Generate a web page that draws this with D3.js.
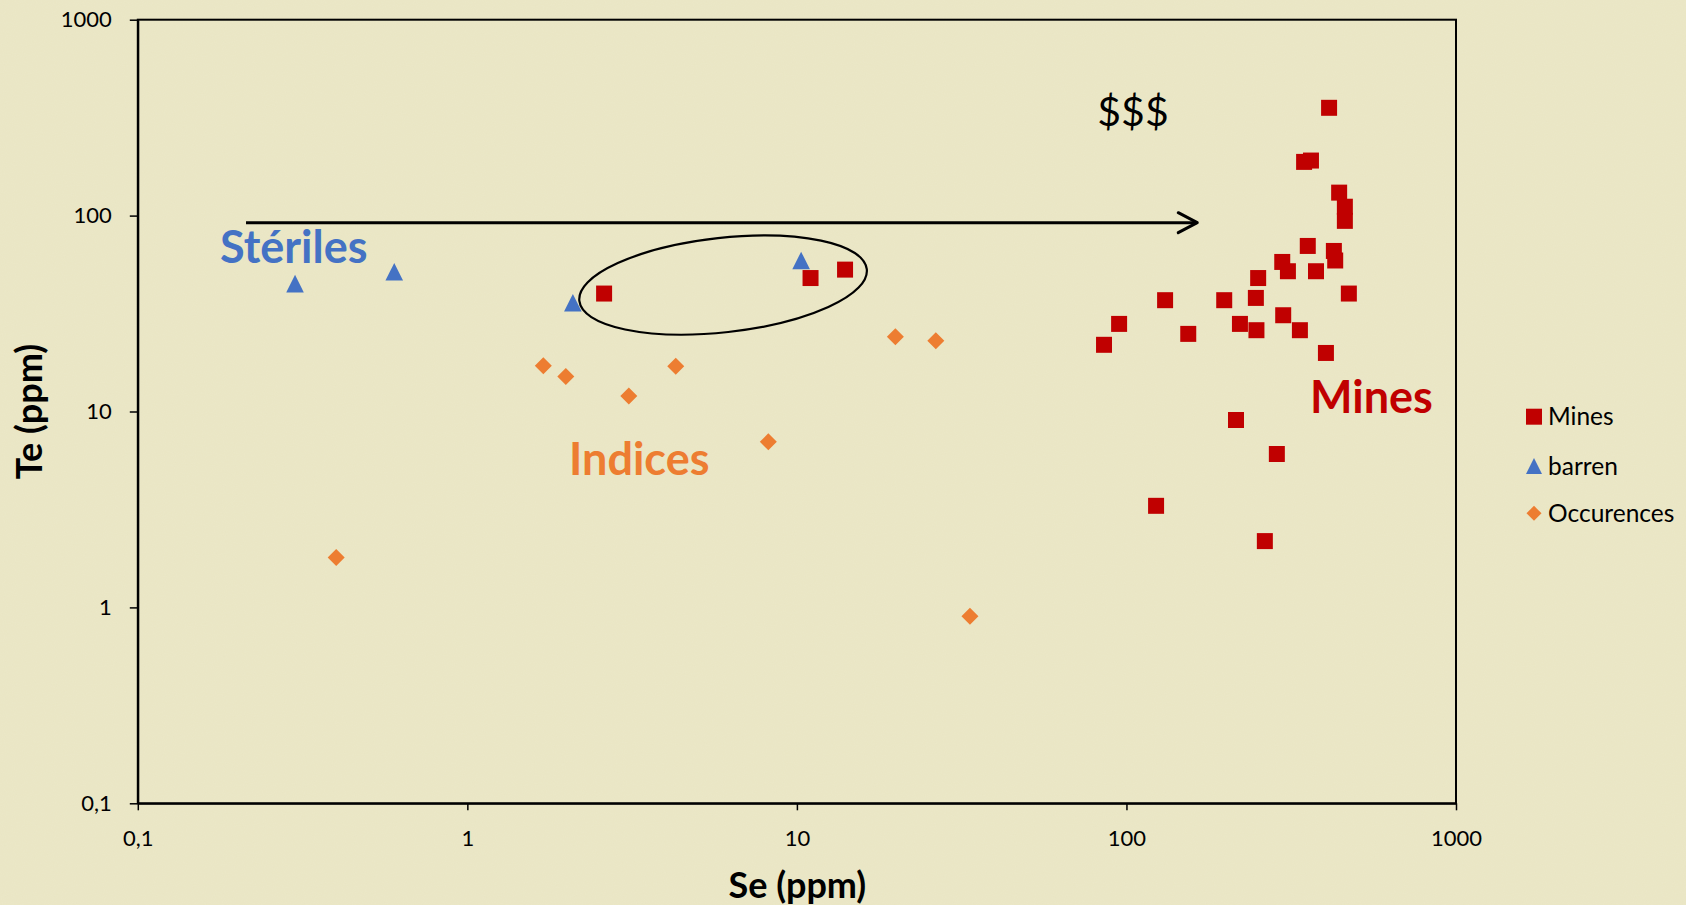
<!DOCTYPE html>
<html>
<head>
<meta charset="utf-8">
<script src="https://cdn.jsdelivr.net/npm/d3@7"></script>
<style>
  html, body { margin: 0; padding: 0; background: #E9E5C3; }
  svg { display: block; }
  text { font-family: Lato, "Open Sans", sans-serif; }
</style>
</head>
<body>
<svg id="chart" width="1686" height="905"></svg>
<script>
// ---- Data ----
const seriesNames = ["Mines", "barren", "Occurences"];

const minesSe = [412, 346, 363, 442, 460, 460, 355, 426, 430, 297, 309, 376, 251, 131, 198, 247, 473,
                 95, 299, 221, 248, 154, 336, 85.5, 403, 215, 286, 123, 263, 2.6, 11.0, 14.0];
const minesTe = [355, 188, 191, 131, 111, 94, 70, 66, 59, 58, 52, 52, 48, 37, 37, 38, 40,
                 28, 31, 28, 26, 24.9, 26, 21.9, 19.9, 9.05, 6.07, 3.3, 2.18, 40, 48, 53];

const barrenSe = [0.3, 0.6, 2.09, 10.3];
const barrenTe = [44.9, 51.7, 35.9, 59];

const occSe = [0.40, 1.70, 1.99, 3.09, 4.29, 8.19, 19.9, 26.4, 33.5];
const occTe = [1.80, 17.1, 15.1, 12.0, 17.0, 7.0, 24.1, 23.0, 0.90];

const xTicks = [0.1, 1, 10, 100, 1000];
const xTickLabels = ["0,1", "1", "10", "100", "1000"];
const yTicks = [0.1, 1, 10, 100, 1000];
const yTickLabels = ["0,1", "1", "10", "100", "1000"];

const xTitle = "Se (ppm)";
const yTitle = "Te (ppm)";

// annotation anchors (data space)
const arrowFrom = [0.213, 92];
const arrowTo = [164, 92];
const ellipseCenter = [5.97, 44.2];

// ---- Layout ----
const svg = d3.select("#chart");
const W = 1686, H = 905;
const plot = { left: 137.8, right: 1456, top: 19.7, bottom: 803.3 };

const colors = { Mines: "#C00000", barren: "#4472C4", Occurences: "#ED7D31" };

// background texture
const defs = svg.append("defs");
const f = defs.append("filter").attr("id", "paper").attr("x", 0).attr("y", 0).attr("width", "100%").attr("height", "100%");
f.append("feTurbulence").attr("type", "fractalNoise").attr("baseFrequency", 0.9).attr("numOctaves", 2).attr("seed", 3).attr("result", "n");
f.append("feColorMatrix").attr("type", "matrix")
  .attr("values", "0 0 0 0 1  0 0 0 0 1  0 0 0 0 0.9  0 0 0 0.10 0");
svg.append("rect").attr("width", W).attr("height", H).attr("fill", "#E9E5C3");
svg.append("rect").attr("width", W).attr("height", H).attr("filter", "url(#paper)");

const x = d3.scaleLog().domain([0.1, 1000]).range([plot.left, plot.right]);
const y = d3.scaleLog().domain([0.1, 1000]).range([plot.bottom, plot.top]);

// plot border
svg.append("rect")
  .attr("x", plot.left).attr("y", plot.top)
  .attr("width", plot.right - plot.left).attr("height", plot.bottom - plot.top)
  .attr("fill", "none").attr("stroke", "#000").attr("stroke-width", 2);

// axes
const xAxis = d3.axisBottom(x).tickValues(xTicks)
  .tickFormat((d, i) => xTickLabels[i]).tickSize(7).tickSizeOuter(0).tickPadding(20);
const yAxis = d3.axisLeft(y).tickValues(yTicks)
  .tickFormat((d, i) => yTickLabels[i]).tickSize(8).tickSizeOuter(0).tickPadding(18);

const gx = svg.append("g").attr("transform", `translate(0,${plot.bottom})`).call(xAxis);
const gy = svg.append("g").attr("transform", `translate(${plot.left},0)`).call(yAxis);
[gx, gy].forEach(g => {
  g.select(".domain").attr("stroke", "#000").attr("stroke-width", 2);
  g.selectAll(".tick line").attr("stroke", "#000").attr("stroke-width", 1.5);
  g.selectAll(".tick text").attr("fill", "#000").style("font-size", "22px").style("font-family", "Lato, sans-serif");
});

// axis titles
svg.append("text").attr("x", (plot.left + plot.right) / 2 + 0.5).attr("y", 898)
  .attr("text-anchor", "middle").style("font-size", "36px").style("font-weight", "bold").text(xTitle);
svg.append("text").attr("transform", `translate(42,${(plot.top + plot.bottom) / 2})rotate(-90)`)
  .attr("text-anchor", "middle").style("font-size", "36px").style("font-weight", "bold").text(yTitle);

// symbol paths
function squarePath(s) { const h = s / 2; return `M${-h},${-h}H${h}V${h}H${-h}Z`; }
function trianglePath(w, hgt) { return `M0,${-hgt / 2}L${w / 2},${hgt / 2}L${-w / 2},${hgt / 2}Z`; }
function diamondPath(w, hgt) { return `M0,${-hgt / 2}L${w / 2},0L0,${hgt / 2}L${-w / 2},0Z`; }

const mines = minesSe.map((v, i) => ({ se: v, te: minesTe[i] }));
const barren = barrenSe.map((v, i) => ({ se: v, te: barrenTe[i] }));
const occ = occSe.map((v, i) => ({ se: v, te: occTe[i] }));

// annotations: arrow + ellipse (drawn before points)
const ax1 = x(arrowFrom[0]), ay = y(arrowFrom[1]), ax2 = x(arrowTo[0]);
svg.append("line").attr("x1", ax1).attr("y1", ay).attr("x2", ax2 - 1).attr("y2", ay)
  .attr("stroke", "#000").attr("stroke-width", 3);
svg.append("path").attr("d", `M${ax2 - 19},${ay - 10}L${ax2},${ay}L${ax2 - 19},${ay + 10}`)
  .attr("fill", "none").attr("stroke", "#000").attr("stroke-width", 3)
  .attr("stroke-linecap", "round").attr("stroke-linejoin", "round");

svg.append("ellipse")
  .attr("transform", `translate(${x(ellipseCenter[0])},${y(ellipseCenter[1])})rotate(-6.3)`)
  .attr("rx", 144.6).attr("ry", 47.2)
  .attr("fill", "none").attr("stroke", "#000").attr("stroke-width", 2.2);

// points
svg.append("g").selectAll("path").data(occ).join("path")
  .attr("transform", d => `translate(${x(d.se)},${y(d.te)})`)
  .attr("d", diamondPath(17, 17)).attr("fill", colors.Occurences);

svg.append("g").selectAll("path").data(barren).join("path")
  .attr("transform", d => `translate(${x(d.se)},${y(d.te)})`)
  .attr("d", trianglePath(17.6, 17.7)).attr("fill", colors.barren);

svg.append("g").selectAll("path").data(mines).join("path")
  .attr("transform", d => `translate(${x(d.se)},${y(d.te)})`)
  .attr("d", squarePath(16)).attr("fill", colors.Mines);

// region labels
svg.append("text").attr("x", 220).attr("y", 263).style("font-size", "45px").style("font-weight", "bold")
  .attr("fill", colors.barren).text("Stériles");
svg.append("text").attr("x", 569).attr("y", 475).style("font-size", "45px").style("font-weight", "bold")
  .attr("fill", colors.Occurences).text("Indices");
svg.append("text").attr("x", 1310).attr("y", 413).style("font-size", "45px").style("font-weight", "bold")
  .attr("fill", colors.Mines).text("Mines");
svg.append("text").attr("x", 1133).attr("y", 126).attr("text-anchor", "middle").style("font-size", "41px")
  .attr("fill", "#000").text("$$$");

// legend
const legendY = [416.7, 466, 513.3];
const legendShapes = [squarePath(16), trianglePath(16, 16), diamondPath(15, 15)];
const lg = svg.append("g");
seriesNames.forEach((name, i) => {
  lg.append("path").attr("transform", `translate(1534,${legendY[i]})`).attr("d", legendShapes[i]).attr("fill", colors[name]);
  lg.append("text").attr("x", 1548).attr("y", legendY[i]).attr("dy", "0.35em")
    .style("font-size", "24.5px").attr("fill", "#000").text(name);
});
</script>
</body>
</html>
